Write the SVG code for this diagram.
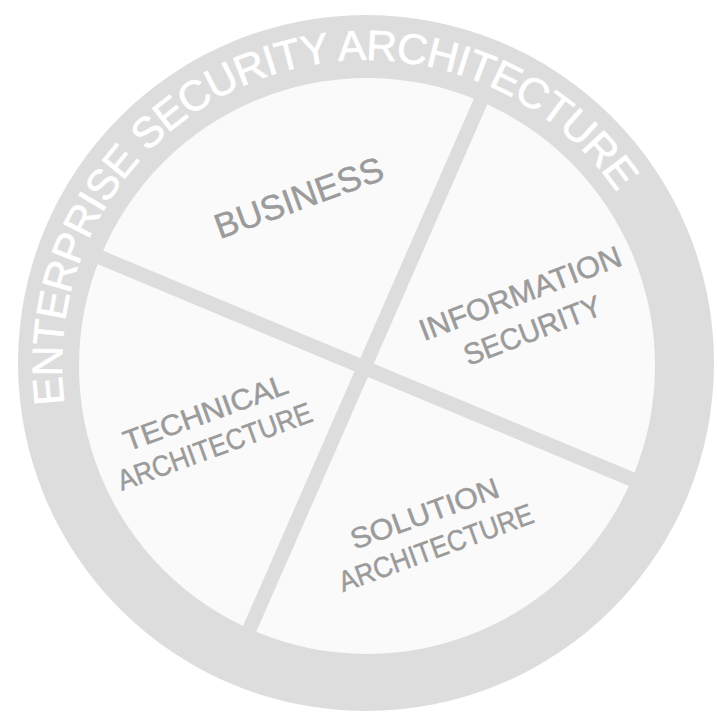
<svg xmlns="http://www.w3.org/2000/svg" xmlns:xlink="http://www.w3.org/1999/xlink" width="717" height="713" viewBox="0 0 717 713">
  <style>
    .ring { fill: #dddddd; }
    .inner { fill: #fafafa; }
    .divider { stroke: #dddddd; stroke-width: 14.5; stroke-linecap: butt; fill: none; }
    .ringtext { font-family: "Liberation Sans", Arial, sans-serif; font-size: 42.5px; fill: #ffffff; stroke: #ffffff; stroke-width: 0.7; letter-spacing: -0.9px; }
    .label { font-family: "Liberation Sans", Arial, sans-serif; fill: #9b9b9b; stroke: #9b9b9b; stroke-width: 0.5; text-anchor: middle; }
  </style>
  <defs>
    <path id="ringPath" d="M 64.6 403.7 A 304 304 0 1 1 651.7 468"/>
  </defs>
  <rect width="717" height="713" fill="#ffffff"/>
  <g id="ring">
    <circle class="ring" cx="366" cy="363" r="348"/>
    <circle class="inner" cx="367" cy="366" r="288"/>
  </g>
  <g id="dividers">
    <line class="divider" x1="73" y1="246" x2="660" y2="491"/>
    <line class="divider" x1="492" y1="75.5" x2="238" y2="655.5"/>
  </g>
  <g id="ring-title">
    <text class="ringtext"><textPath xlink:href="#ringPath" href="#ringPath">ENTERPRISE SECURITY ARCHITECTURE</textPath></text>
  </g>
  <g id="business" transform="translate(303,209) rotate(-20)">
    <text class="label" x="0" y="0" font-size="35">BUSINESS</text>
  </g>
  <g id="information-security" transform="translate(524,303) rotate(-21)">
    <text class="label" x="0" y="0" font-size="30" textLength="214" lengthAdjust="spacingAndGlyphs">INFORMATION</text>
    <text class="label" x="-2" y="39" font-size="30" textLength="145" lengthAdjust="spacingAndGlyphs">SECURITY</text>
  </g>
  <g id="technical-architecture" transform="translate(209,422) rotate(-20)">
    <text class="label" x="0" y="0" font-size="29" textLength="173" lengthAdjust="spacingAndGlyphs">TECHNICAL</text>
    <text class="label" x="-3" y="35" font-size="29" textLength="205" lengthAdjust="spacingAndGlyphs">ARCHITECTURE</text>
  </g>
  <g id="solution-architecture" transform="translate(428,523) rotate(-20)">
    <text class="label" x="0" y="0" font-size="29" textLength="156" lengthAdjust="spacingAndGlyphs">SOLUTION</text>
    <text class="label" x="-1" y="36" font-size="29" textLength="205" lengthAdjust="spacingAndGlyphs">ARCHITECTURE</text>
  </g>
</svg>
